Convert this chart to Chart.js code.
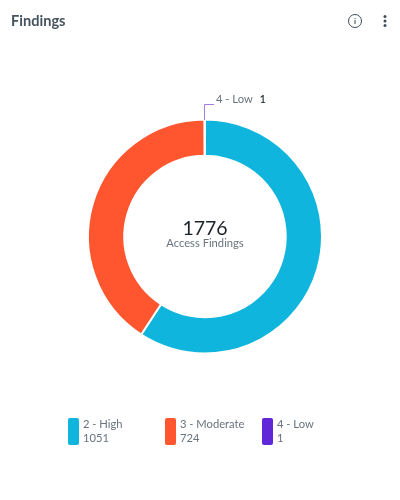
<!DOCTYPE html>
<html>
<head>
<meta charset="utf-8">
<title>Findings</title>
<script src="https://cdn.jsdelivr.net/npm/chart.js@4"></script>
<style>
  html, body { margin: 0; padding: 0; background: #fff; }
  body { width: 400px; height: 500px; position: relative; overflow: hidden; font-family: Lato, sans-serif; color: #68737d; }
  #wrap { position: absolute; left: 0; top: 0; width: 400px; height: 500px; }
  .abs { position: absolute; white-space: nowrap; }
  #title { left: 11px; top: 10px; font-size: 14.6px; line-height: 22px; font-weight: 700; color: #46535e; }
  #total { left: 105px; width: 200px; top: 216px; text-align: center; font-size: 19.5px; line-height: 24px; color: #1c2228; }
  #subtitle { left: 105px; width: 200px; top: 236px; text-align: center; font-size: 11.2px; line-height: 14px; }
  #callout { left: 216px; top: 91px; font-size: 11.2px; line-height: 15px; }
  #callout b { font-weight: 500; color: #1c2228; margin-left: 4px; }
  .key { position: absolute; top: 418px; height: 27px; }
  .swatch { position: absolute; left: 0; top: 0; width: 11px; height: 27px; border-radius: 2px; }
  .key span { position: absolute; left: 15px; font-size: 11.2px; line-height: 14px; white-space: nowrap; }
  .key .name { top: -1px; }
  .key .num { top: 13px; }
  svg { position: absolute; }
</style>
</head>
<body>
<div id="wrap"><canvas id="myChart" width="400" height="500"></canvas></div>
<div id="title" class="abs">Findings</div>
<svg style="left:347px;top:13px" width="16" height="16" viewBox="0 0 16 16">
  <circle cx="8" cy="8" r="6.5" fill="none" stroke="#3f4c56" stroke-width="1"/>
  <rect x="7.5" y="7" width="1" height="4" fill="#3f4c56"/>
  <rect x="7.5" y="5" width="1" height="1" fill="#3f4c56"/>
</svg>
<svg style="left:382px;top:14px" width="6" height="14" viewBox="0 0 6 14">
  <circle cx="3" cy="2.5" r="1.5" fill="#3f4c56"/>
  <circle cx="3" cy="7" r="1.5" fill="#3f4c56"/>
  <circle cx="3" cy="11.5" r="1.5" fill="#3f4c56"/>
</svg>
<div id="total" class="abs"></div>
<div id="subtitle" class="abs">Access Findings</div>
<div id="callout" class="abs"></div>
<div id="legend"></div>
<script>
var categories = ['2 - High', '3 - Moderate', '4 - Low'];
var findings = [1051, 724, 1];
var colors = ['#0fb5dc', '#ff5630', '#6027d9'];
var totalFindings = 1776;
var legendLeft = [68, 165, 262];

// thin purple elbow from the smallest slice up to its label
var leaderLine = {
  id: 'leaderLine',
  afterDraw: function(chart) {
    var arc = chart.getDatasetMeta(0).data[2];
    var p = arc.getProps(['x', 'y', 'outerRadius']);
    var c = chart.ctx;
    var top = Math.round(p.y - p.outerRadius);
    c.save();
    c.strokeStyle = '#a07ceb';
    c.lineWidth = 1;
    c.beginPath();
    c.moveTo(Math.round(p.x) - 0.5, top);
    c.lineTo(Math.round(p.x) - 0.5, top - 15.5);
    c.lineTo(Math.round(p.x) + 9, top - 15.5);
    c.stroke();
    c.restore();
  }
};

var ctx = document.getElementById('myChart').getContext('2d');
var myChart = new Chart(ctx, {
  type: 'doughnut',
  data: {
    labels: categories,
    datasets: [{
      data: findings,
      backgroundColor: colors,
      borderColor: '#fff',
      borderWidth: 2
    }]
  },
  options: {
    responsive: false,
    animation: false,
    cutout: '69%',
    layout: { padding: { left: 87, right: 77, top: 118, bottom: 145 } },
    plugins: {
      legend: { display: false },
      tooltip: { enabled: false }
    }
  },
  plugins: [leaderLine]
});

document.getElementById('total').textContent = totalFindings;
document.getElementById('callout').innerHTML = categories[2] + ' <b>' + findings[2] + '</b>';

var legend = document.getElementById('legend');
categories.forEach(function(name, i) {
  var key = document.createElement('div');
  key.className = 'key';
  key.style.left = legendLeft[i] + 'px';
  key.innerHTML = '<div class="swatch" style="background:' + colors[i] + '"></div>' +
    '<span class="name">' + name + '</span><span class="num">' + findings[i] + '</span>';
  legend.appendChild(key);
});
</script>
</body>
</html>
